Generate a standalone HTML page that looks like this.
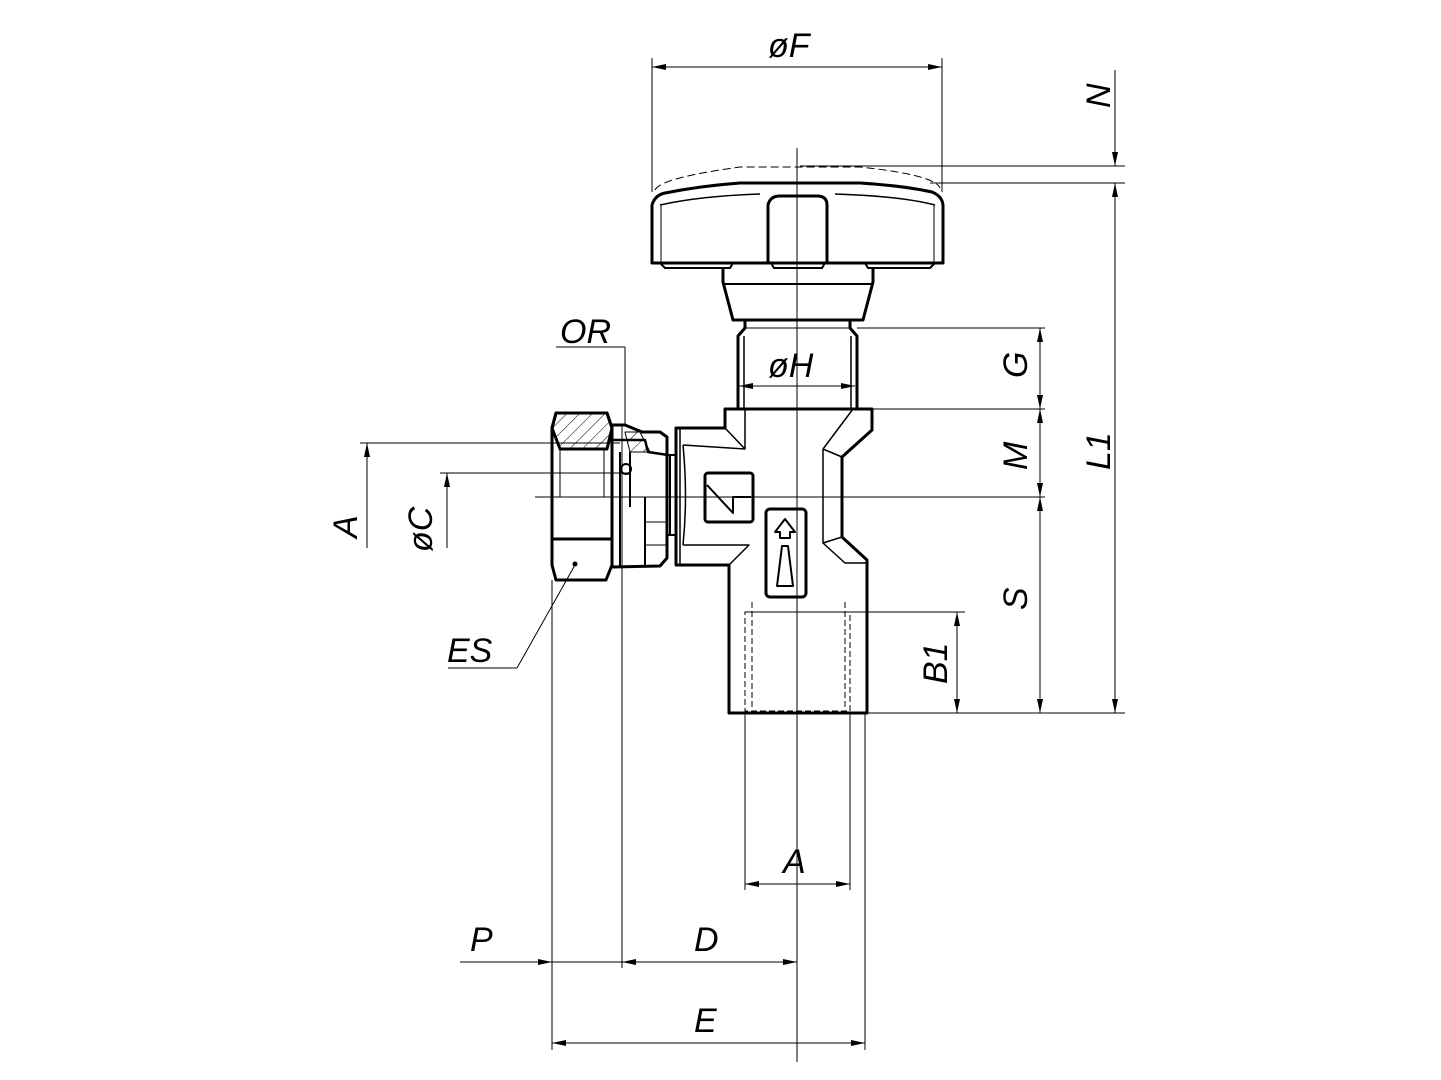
<!DOCTYPE html>
<html><head><meta charset="utf-8"><style>
html,body{margin:0;padding:0;background:#fff;}
svg{display:block}
text{font-family:"Liberation Sans",sans-serif;font-style:italic;font-size:34px;fill:#000}
</style></head><body>
<svg width="1441" height="1080" viewBox="0 0 1441 1080" xmlns="http://www.w3.org/2000/svg">
<defs>
<marker id="ar" markerWidth="14" markerHeight="6" refX="14" refY="3" orient="auto" markerUnits="userSpaceOnUse"><path d="M0,0 L14,3 L0,6 Z" fill="#000"/></marker>
<marker id="al" markerWidth="14" markerHeight="6" refX="0" refY="3" orient="auto" markerUnits="userSpaceOnUse"><path d="M14,0 L0,3 L14,6 Z" fill="#000"/></marker>
<pattern id="h" width="9" height="9" patternUnits="userSpaceOnUse" patternTransform="rotate(45)"><line x1="0" y1="0" x2="0" y2="9" stroke="#000" stroke-width="1"/></pattern>
</defs>
<g fill="none" stroke="#000" stroke-width="1">
<line x1="797" y1="148" x2="797" y2="1062"/>
<line x1="535" y1="497" x2="1045" y2="497"/>
<line x1="652" y1="58" x2="652" y2="192"/>
<line x1="942" y1="58" x2="942" y2="192"/>
<line x1="800" y1="166" x2="1125" y2="166"/>
<line x1="930" y1="183" x2="1125" y2="183"/>
<line x1="857" y1="328" x2="1045" y2="328"/>
<line x1="872" y1="409" x2="1045" y2="409"/>
<line x1="867" y1="713" x2="1125" y2="713"/>
<line x1="745" y1="612" x2="965" y2="612"/>
<line x1="360" y1="443" x2="620" y2="443"/>
<line x1="440" y1="473" x2="630" y2="473"/>
<line x1="556" y1="347" x2="625" y2="347"/>
<line x1="625" y1="347" x2="625" y2="425"/>
<line x1="622" y1="425" x2="622" y2="968"/>
<line x1="552" y1="580" x2="552" y2="1050"/>
<line x1="745" y1="713" x2="745" y2="890"/>
<line x1="850" y1="713" x2="850" y2="890"/>
<line x1="865" y1="713" x2="865" y2="1050"/>
<line x1="448" y1="668" x2="517" y2="668"/>
<line x1="517" y1="668" x2="575" y2="565"/>
<line x1="652" y1="67" x2="942" y2="67" marker-start="url(#al)" marker-end="url(#ar)"/>
<line x1="1115" y1="70" x2="1115" y2="166" marker-end="url(#ar)"/>
<line x1="1115" y1="183" x2="1115" y2="713" marker-start="url(#al)" marker-end="url(#ar)"/>
<line x1="1040" y1="328" x2="1040" y2="409" marker-start="url(#al)" marker-end="url(#ar)"/>
<line x1="1040" y1="409" x2="1040" y2="497" marker-start="url(#al)" marker-end="url(#ar)"/>
<line x1="1040" y1="497" x2="1040" y2="713" marker-start="url(#al)" marker-end="url(#ar)"/>
<line x1="957" y1="612" x2="957" y2="713" marker-start="url(#al)" marker-end="url(#ar)"/>
<line x1="739" y1="386" x2="855" y2="386" marker-start="url(#al)" marker-end="url(#ar)"/>
<line x1="367" y1="443" x2="367" y2="548" marker-start="url(#al)"/>
<line x1="447" y1="473" x2="447" y2="548" marker-start="url(#al)"/>
<line x1="745" y1="884" x2="850" y2="884" marker-start="url(#al)" marker-end="url(#ar)"/>
<line x1="460" y1="962" x2="552" y2="962" marker-end="url(#ar)"/>
<line x1="552" y1="962" x2="622" y2="962"/>
<line x1="622" y1="962" x2="797" y2="962" marker-start="url(#al)" marker-end="url(#ar)"/>
<line x1="552" y1="1043" x2="865" y2="1043" marker-start="url(#al)" marker-end="url(#ar)"/>
<path d="M655,190 Q660,178 740,167 L860,167 Q935,175 940,188" stroke-dasharray="8,4"/>
<line x1="661" y1="205" x2="661" y2="263"/>
<line x1="934" y1="205" x2="934" y2="263"/>
<line x1="560" y1="449" x2="560" y2="497"/>
<line x1="604" y1="449" x2="604" y2="497"/>
<line x1="645" y1="522" x2="667" y2="522"/>
<line x1="645" y1="545" x2="667" y2="545"/>
</g>
<g fill="none" stroke="#000" stroke-width="3" stroke-linejoin="round">
<path d="M652,263 L652,205 Q655,195 665,193 Q700,186 740,183 L860,183 Q905,186 932,192 Q942,196 943,205 L943,263 Z"/>
<path d="M660,263 L665,268 L730,268 L733,263 M865,263 L868,268 L930,268 L935,263" stroke-width="2"/>
<path d="M768,263 L768,205 Q770,196 780,196 L817,196 Q827,196 827,205 L827,263" />
<path d="M771,263 L774,268 L822,268 L825,263" stroke-width="2"/>
<path d="M660,205 Q700,196 760,194 M835,194 Q900,196 935,205" stroke-width="1.5"/>
<path d="M723,268 L723,282 L733,320 L863,320 L873,282 L873,268"/>
<line x1="723" y1="284" x2="873" y2="284" stroke-width="2"/>
<path d="M745,320 L745,328 L738,336 L738,409 M850,320 L850,328 L857,336 L857,409"/>
<line x1="744" y1="336" x2="744" y2="409" stroke-width="1.5"/>
<line x1="851" y1="336" x2="851" y2="409" stroke-width="1.5"/>
<line x1="745" y1="328" x2="850" y2="328" stroke-width="1"/>
<path d="M725,409 L872,409 L872,430 L842,457 L842,537 L867,560 L867,713 L729,713 L729,565 L676,565 L676,428 L725,428 Z"/>
<path d="M725,428 L725,409 M745,409 L745,449 L725,428 M823,449 L853,409 M823,449 L823,543 L845,563 L867,563 M823,543 L842,537 M842,457 L823,449" stroke-width="1.5"/>
<path d="M683,445 L745,449 M683,545 L749,545 L729,565 M683,445 Q688,497 683,545" stroke-width="1.5"/>
<line x1="680" y1="428" x2="680" y2="565" stroke-width="1.5"/>
<rect x="705" y="473" width="48" height="49" rx="3"/>
<path d="M707,485 L733,513 L733,497 L751,497" stroke-width="2"/>
<rect x="766" y="509" width="40" height="88" rx="4"/>
<path d="M785,519 L775,532 L780,532 L780,538 L790,538 L790,532 L795,532 Z" stroke-width="2"/>
<path d="M782,546 L788,546 L793,586 L777,586 Z" stroke-width="2"/>
<line x1="732" y1="713" x2="864" y2="713" stroke-width="2"/>
<path d="M556,413 L607,413 L612,428 L612,565 L606,580 L556,580 L552,565 L552,428 Z"/>
<path d="M556,413 L607,413 L612,428 L607,449 L560,449 L552,428 Z" fill="url(#h)"/>
<line x1="552" y1="539" x2="612" y2="539"/>
<path d="M612,425 L625,425 L642,432 L660,432 L667,437 L667,558 L660,566 L612,567"/>
<path d="M612,440 L645,440 L648,452 L668,455" stroke-width="2.5"/>
<path d="M620,452 L620,507 M630,452 L630,507" stroke-width="2"/>
<circle cx="626" cy="469" r="5" stroke-width="2"/>
<path d="M625,432 L640,432 L650,452 L630,452 Z" fill="url(#h)" stroke-width="1"/>
<line x1="620" y1="497" x2="620" y2="567" stroke-width="2"/>
<line x1="645" y1="497" x2="645" y2="565" stroke-width="2"/>
<line x1="668" y1="455" x2="676" y2="455" stroke-width="2"/>
<line x1="668" y1="535" x2="676" y2="535" stroke-width="2"/>
<line x1="670" y1="455" x2="670" y2="535" stroke-width="2"/>
</g>
<g fill="none" stroke="#000" stroke-width="1" stroke-dasharray="6,3">
<rect x="745" y="612" width="105" height="99"/>
<line x1="752" y1="602" x2="752" y2="710"/>
<line x1="845" y1="602" x2="845" y2="710"/>
</g>
<circle cx="575" cy="564" r="2.5" fill="#000"/>
<text x="768" y="57">øF</text>
<text x="768" y="377">øH</text>
<text x="560" y="343">OR</text>
<text x="447" y="662">ES</text>
<text x="783" y="873">A</text>
<text x="470" y="951">P</text>
<text x="694" y="951">D</text>
<text x="694" y="1032">E</text>
<text transform="translate(1110,108) rotate(-90)">N</text>
<text transform="translate(1110,470) rotate(-90)">L1</text>
<text transform="translate(1027,378) rotate(-90)">G</text>
<text transform="translate(1027,470) rotate(-90)">M</text>
<text transform="translate(1027,610) rotate(-90)">S</text>
<text transform="translate(947,684) rotate(-90)">B1</text>
<text transform="translate(357,538) rotate(-90)">A</text>
<text transform="translate(432,552) rotate(-90)">øC</text>
</svg>
</body></html>
